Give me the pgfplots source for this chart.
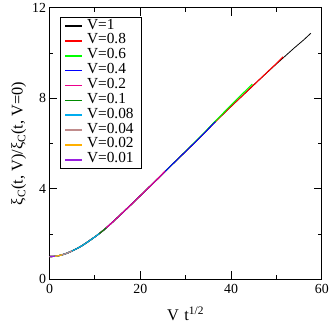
\documentclass[border=0pt]{standalone}
\usepackage{fontspec}
\setmainfont{Liberation Serif}
\usepackage{pgfplots}
\pgfplotsset{compat=1.18}
\definecolor{gfour}{HTML}{008B00}
\definecolor{brn}{HTML}{C08C8C}
\definecolor{orng}{HTML}{FFB000}
\definecolor{vio}{HTML}{9A1FE0}
\begin{document}
\begin{tikzpicture}
\begin{axis}[
    width=275pt, height=274pt, scale only axis,
    xmin=0, xmax=60, ymin=0, ymax=12,
    xtick={0,20,40,60}, ytick={0,4,8,12},
    minor xtick={10,30,50}, minor ytick={2,6,10},
    tick align=inside, major tick length=8pt, minor tick length=4pt,
    tick style={black, line width=0.8pt},
    axis line style={line width=0.8pt},
    xtick pos=both, ytick pos=both,
    tick label style={font=\fontsize{14}{14}\selectfont},
    xticklabel style={yshift=-2pt},
    /pgf/number format/assume math mode=true,
    xlabel={V\,\,t\textsuperscript{1/2}},
    ylabel={ξ\textsubscript{C}(t, V)/ξ\textsubscript{C}(t, V=0)},
    xlabel style={font=\fontsize{16.5}{16.5}\selectfont, at={(axis description cs:0.5,0)}, anchor=base, yshift=-42pt},
    ylabel style={font=\fontsize{16.5}{16.5}\selectfont, at={(axis description cs:-0.113,0.5)}, anchor=center},
    legend style={at={(0.04,0.965)}, anchor=north west, draw=black, line width=0.6pt,
        font=\fontsize{15.5}{15.5}\selectfont, row sep=0pt, inner xsep=4pt, inner ysep=1pt,
        nodes={inner ysep=0pt, inner xsep=4pt, text height=10.5pt, text depth=4.5pt}},
    legend cell align=left,
    legend image code/.code={\draw[mark repeat=2,mark phase=2] plot coordinates {(0pt,0pt) (8pt,0pt) (17pt,0pt)};},
    legend image post style={line width=1.6pt},
    every axis plot/.append style={line width=1.1pt},
]
\addplot[black, line width=0.8pt] coordinates {(0,1.00) (0.5,1.003) (1,1.01) (1.5,1.02) (2,1.04) (2.5,1.06) (3,1.09) (4,1.16) (5,1.25) (6,1.35) (7,1.46) (8,1.59) (9,1.73) (10,1.87) (11,2.02) (12,2.18) (13,2.36) (14,2.54) (16,2.92) (18,3.30) (20,3.69) (22,4.08) (24,4.47) (26,4.87) (28,5.26) (30,5.65) (32,6.04) (34,6.44) (36,6.86) (38,7.25) (40,7.64) (42,8.02) (44,8.40) (46,8.78) (48,9.15) (50,9.52) (52,9.88) (54,10.24) (56,10.58) (57.6,10.88)};
\addplot[red] coordinates {(0,1.00) (0.5,1.003) (1,1.01) (1.5,1.02) (2,1.04) (2.5,1.06) (3,1.09) (4,1.16) (5,1.25) (6,1.35) (7,1.46) (8,1.59) (9,1.73) (10,1.87) (11,2.02) (12,2.18) (13,2.36) (14,2.54) (16,2.92) (18,3.30) (20,3.69) (22,4.08) (24,4.47) (26,4.87) (28,5.26) (30,5.65) (32,6.04) (34,6.44) (36,6.86) (38,7.25) (40,7.64) (42,8.02) (44,8.40) (46,8.78) (48,9.16) (50,9.54) (51.5,9.84)};
\addplot[green] coordinates {(0,1.00) (0.5,1.003) (1,1.01) (1.5,1.02) (2,1.04) (2.5,1.06) (3,1.09) (4,1.16) (5,1.25) (6,1.35) (7,1.46) (8,1.59) (9,1.73) (10,1.87) (11,2.02) (12,2.18) (13,2.36) (14,2.54) (16,2.92) (18,3.30) (20,3.69) (22,4.08) (24,4.47) (26,4.87) (28,5.26) (30,5.66) (32,6.06) (34,6.46) (36,6.88) (38,7.29) (40,7.70) (42,8.10) (44,8.49) (44.7,8.63)};
\addplot[blue] coordinates {(0,1.00) (0.5,1.003) (1,1.01) (1.5,1.02) (2,1.04) (2.5,1.06) (3,1.09) (4,1.16) (5,1.25) (6,1.35) (7,1.46) (8,1.59) (9,1.73) (10,1.87) (11,2.02) (12,2.18) (13,2.36) (14,2.54) (16,2.92) (18,3.30) (20,3.69) (22,4.08) (24,4.47) (26,4.87) (28,5.26) (30,5.65) (32,6.04) (34,6.44) (36,6.85) (36.6,6.97)};
\addplot[magenta] coordinates {(0,1.00) (0.5,1.003) (1,1.01) (1.5,1.02) (2,1.04) (2.5,1.06) (3,1.09) (4,1.16) (5,1.25) (6,1.35) (7,1.46) (8,1.59) (9,1.73) (10,1.87) (11,2.02) (12,2.18) (13,2.36) (14,2.54) (16,2.92) (18,3.30) (20,3.69) (22,4.08) (24,4.47) (25.5,4.79)};
\addplot[gfour] coordinates {(0,1.00) (0.5,1.003) (1,1.01) (1.5,1.02) (2,1.04) (2.5,1.06) (3,1.09) (4,1.16) (5,1.25) (6,1.35) (7,1.46) (8,1.59) (9,1.73) (10,1.87) (11,2.02) (12,2.18) (12.5,2.27)};
\addplot[cyan] coordinates {(0,1.00) (0.5,1.003) (1,1.01) (1.5,1.02) (2,1.04) (2.5,1.06) (3,1.09) (4,1.16) (5,1.25) (6,1.35) (7,1.46) (8,1.59) (9,1.73) (10,1.87) (11,2.02)};
\addplot[brn] coordinates {(0,1.00) (0.5,1.003) (1,1.01) (1.5,1.02) (2,1.04) (2.5,1.06) (3,1.09) (4,1.16) (5,1.25)};
\addplot[orng] coordinates {(0,1.00) (0.5,1.003) (1,1.01) (1.5,1.02) (2,1.04) (2.5,1.06) (2.8,1.08)};
\addplot[vio] coordinates {(0,1.00) (0.5,1.003) (1,1.01) (1.2,1.013)};
\legend{V=1, V=0.8, V=0.6, V=0.4, V=0.2, V=0.1, V=0.08, V=0.04, V=0.02, V=0.01}
\end{axis}
\path (current axis.south west) ++(-50pt,-44pt);
\path (current axis.north east) ++(7pt,5pt);
\end{tikzpicture}
\end{document}
